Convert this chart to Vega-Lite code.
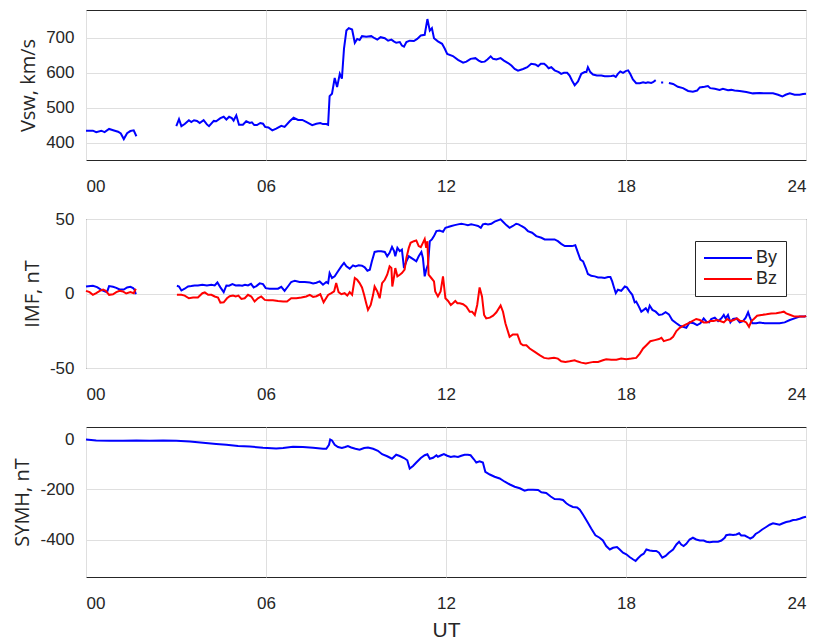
{
  "$schema": "https://vega.github.io/schema/vega-lite/v6.json",
  "background": "white",
  "padding": {"left": 12, "top": 9, "right": 12, "bottom": 5},
  "bounds": "flush",
  "spacing": 59,
  "config": {
    "font": "Liberation Sans, sans-serif",
    "view": {"stroke": "#262626", "strokeWidth": 1},
    "axis": {
      "domain": false,
      "ticks": false,
      "labelFontSize": 17,
      "labelColor": "#262626",
      "labelFont": "Liberation Sans, sans-serif",
      "titleFont": "Open Sans",
      "titleFontSize": 20,
      "titleFontWeight": "normal",
      "titleColor": "#262626",
      "gridColor": "#dfdfdf",
      "gridWidth": 1,
      "gridOpacity": 1
    },
    "axisX": {"labelPadding": 18, "titleFont": "Liberation Sans, sans-serif", "titleFontSize": 21, "titlePadding": 8},
    "axisY": {"labelPadding": 12, "titlePadding": 7},
    "legend": {
      "orient": "none",
      "legendX": 609,
      "legendY": 231,
      "strokeColor": "#262626",
      "fillColor": "white",
      "padding": 8,
      "symbolType": "M-1,0H5",
      "symbolStrokeWidth": 2,
      "symbolSize": 256,
      "labelFont": "Liberation Sans, sans-serif",
      "labelFontSize": 18,
      "labelColor": "#262626",
      "labelOffset": 35,
      "rowPadding": 3,
      "title": null
    }
  },
  "datasets": {
    "vsw": [
      {"t":0,"v":434},{"t":0.23,"v":434},{"t":0.34,"v":430},{"t":0.51,"v":434},{"t":0.62,"v":430},{"t":0.77,"v":439},{"t":0.96,"v":434},{"t":1.07,"v":431},{"t":1.16,"v":426},{"t":1.26,"v":410},{"t":1.37,"v":427},{"t":1.48,"v":433},{"t":1.59,"v":435},{"t":1.68,"v":418},
      {"t":2.3,"v":null},
      {"t":3.01,"v":447},{"t":3.1,"v":467},{"t":3.18,"v":447},{"t":3.29,"v":453},{"t":3.43,"v":464},{"t":3.51,"v":459},{"t":3.6,"v":464},{"t":3.7,"v":462},{"t":3.79,"v":456},{"t":3.92,"v":464},{"t":4.03,"v":452},{"t":4.1,"v":447},{"t":4.26,"v":462},{"t":4.34,"v":461},{"t":4.48,"v":470},{"t":4.59,"v":474},{"t":4.68,"v":466},{"t":4.77,"v":474},{"t":4.86,"v":470},{"t":4.92,"v":463},{"t":5.01,"v":478},{"t":5.1,"v":451},{"t":5.23,"v":451},{"t":5.34,"v":461},{"t":5.46,"v":456},{"t":5.53,"v":458},{"t":5.61,"v":450},{"t":5.7,"v":450},{"t":5.81,"v":456},{"t":5.9,"v":454},{"t":5.97,"v":445},{"t":6.08,"v":443},{"t":6.21,"v":435},{"t":6.34,"v":440},{"t":6.51,"v":448},{"t":6.62,"v":445},{"t":6.79,"v":461},{"t":6.92,"v":471},{"t":7.07,"v":465},{"t":7.21,"v":465},{"t":7.34,"v":459},{"t":7.54,"v":450},{"t":7.68,"v":454},{"t":7.81,"v":456},{"t":7.9,"v":453},{"t":8.01,"v":453},{"t":8.07,"v":451},
      {"t":8.12,"v":533},{"t":8.2,"v":540},{"t":8.29,"v":585},{"t":8.37,"v":559},{"t":8.46,"v":597},{"t":8.53,"v":583},{"t":8.6,"v":669},{"t":8.68,"v":721},{"t":8.76,"v":728},{"t":8.87,"v":724},{"t":8.96,"v":686},{"t":9.04,"v":697},{"t":9.12,"v":694},{"t":9.2,"v":705},{"t":9.34,"v":703},{"t":9.51,"v":705},{"t":9.62,"v":699},{"t":9.71,"v":695},{"t":9.82,"v":702},{"t":9.96,"v":699},{"t":10.07,"v":692},{"t":10.18,"v":695},{"t":10.26,"v":690},{"t":10.34,"v":686},{"t":10.46,"v":688},{"t":10.53,"v":678},{"t":10.6,"v":675},{"t":10.68,"v":688},{"t":10.79,"v":692},{"t":10.93,"v":691},{"t":11.04,"v":697},{"t":11.16,"v":707},{"t":11.29,"v":709},{"t":11.38,"v":754},{"t":11.46,"v":721},{"t":11.53,"v":728},{"t":11.6,"v":699},{"t":11.73,"v":690},{"t":11.87,"v":683},{"t":11.96,"v":669},
      {"t":12.04,"v":654},{"t":12.23,"v":648},{"t":12.4,"v":637},{"t":12.57,"v":629},{"t":12.68,"v":632},{"t":12.82,"v":640},{"t":12.98,"v":642},{"t":13.09,"v":635},{"t":13.18,"v":631},{"t":13.29,"v":632},{"t":13.38,"v":638},{"t":13.49,"v":647},{"t":13.57,"v":640},{"t":13.68,"v":638},{"t":13.82,"v":642},{"t":13.93,"v":635},{"t":14.07,"v":628},{"t":14.18,"v":621},{"t":14.29,"v":611},{"t":14.4,"v":606},{"t":14.57,"v":611},{"t":14.71,"v":616},{"t":14.84,"v":626},{"t":14.98,"v":624},{"t":15.07,"v":619},{"t":15.16,"v":626},{"t":15.27,"v":626},{"t":15.34,"v":621},{"t":15.42,"v":613},{"t":15.51,"v":616},{"t":15.62,"v":607},{"t":15.76,"v":602},{"t":15.84,"v":597},{"t":15.93,"v":600},{"t":16.04,"v":600},{"t":16.12,"v":592},{"t":16.2,"v":578},{"t":16.29,"v":564},{"t":16.4,"v":575},{"t":16.51,"v":597},{"t":16.62,"v":602},{"t":16.68,"v":602},{"t":16.73,"v":616},{"t":16.81,"v":602},{"t":16.9,"v":595},{"t":17.03,"v":592},{"t":17.18,"v":592},{"t":17.29,"v":590},{"t":17.4,"v":590},{"t":17.51,"v":591},{"t":17.59,"v":592},{"t":17.66,"v":588},{"t":17.73,"v":597},{"t":17.81,"v":604},{"t":17.9,"v":600},{"t":17.99,"v":605},{"t":18.07,"v":607},{"t":18.14,"v":597},{"t":18.23,"v":581},{"t":18.34,"v":570},{"t":18.46,"v":570},{"t":18.57,"v":573},{"t":18.66,"v":571},{"t":18.73,"v":573},{"t":18.84,"v":571},{"t":18.9,"v":573},{"t":18.99,"v":579},
      {"t":19.08,"v":null},
      {"t":19.17,"v":572},{"t":19.24,"v":572},
      {"t":19.33,"v":null},
      {"t":19.43,"v":571},{"t":19.57,"v":568},{"t":19.73,"v":560},{"t":19.9,"v":556},{"t":20.07,"v":548},{"t":20.23,"v":546},{"t":20.37,"v":549},{"t":20.46,"v":558},{"t":20.62,"v":560},{"t":20.73,"v":562},{"t":20.81,"v":556},{"t":20.96,"v":554},{"t":21.12,"v":551},{"t":21.23,"v":554},{"t":21.4,"v":550},{"t":21.51,"v":551},{"t":21.62,"v":549},{"t":21.79,"v":548},{"t":22.01,"v":545},{"t":22.23,"v":541},{"t":22.46,"v":542},{"t":22.68,"v":541},{"t":22.9,"v":541},{"t":23.07,"v":537},{"t":23.21,"v":532},{"t":23.32,"v":537},{"t":23.46,"v":541},{"t":23.62,"v":537},{"t":23.79,"v":537},{"t":23.9,"v":539},{"t":24,"v":540}
    ],
    "imf": [
      {"c":"By","t":0,"v":4.7},{"c":"By","t":0.23,"v":5.2},{"c":"By","t":0.37,"v":4.3},{"c":"By","t":0.51,"v":2.5},{"c":"By","t":0.62,"v":1.4},{"c":"By","t":0.7,"v":0.9},{"c":"By","t":0.77,"v":5},{"c":"By","t":0.9,"v":4.5},{"c":"By","t":1.01,"v":3.8},{"c":"By","t":1.12,"v":2.7},{"c":"By","t":1.26,"v":2.7},{"c":"By","t":1.37,"v":4.1},{"c":"By","t":1.48,"v":4.5},{"c":"By","t":1.57,"v":3.6},{"c":"By","t":1.62,"v":2.5},{"c":"By","t":1.66,"v":-0.5},
      {"c":"By","t":2.3,"v":null},
      {"c":"By","t":3.03,"v":5.2},{"c":"By","t":3.1,"v":4.7},{"c":"By","t":3.18,"v":2},{"c":"By","t":3.29,"v":3.2},{"c":"By","t":3.4,"v":4.7},{"c":"By","t":3.51,"v":5},{"c":"By","t":3.62,"v":5.4},{"c":"By","t":3.73,"v":5.4},{"c":"By","t":3.88,"v":5.9},{"c":"By","t":4.03,"v":5.4},{"c":"By","t":4.18,"v":5.9},{"c":"By","t":4.29,"v":5.4},{"c":"By","t":4.38,"v":7.4},{"c":"By","t":4.48,"v":4.1},{"c":"By","t":4.59,"v":0.9},{"c":"By","t":4.68,"v":5.4},{"c":"By","t":4.77,"v":5.2},{"c":"By","t":4.88,"v":6.3},{"c":"By","t":4.99,"v":5.4},{"c":"By","t":5.1,"v":5.6},{"c":"By","t":5.21,"v":5.2},{"c":"By","t":5.3,"v":5.9},{"c":"By","t":5.4,"v":5.4},{"c":"By","t":5.5,"v":6.5},{"c":"By","t":5.59,"v":4.1},{"c":"By","t":5.68,"v":5},{"c":"By","t":5.79,"v":6.8},{"c":"By","t":5.9,"v":6.3},{"c":"By","t":5.99,"v":3.6},{"c":"By","t":6.12,"v":3.2},{"c":"By","t":6.26,"v":3.2},{"c":"By","t":6.4,"v":3.2},{"c":"By","t":6.51,"v":4.5},{"c":"By","t":6.62,"v":1.8},{"c":"By","t":6.73,"v":4.7},{"c":"By","t":6.84,"v":7.7},{"c":"By","t":6.96,"v":8.6},{"c":"By","t":7.12,"v":7.7},{"c":"By","t":7.29,"v":7.7},{"c":"By","t":7.46,"v":7.4},{"c":"By","t":7.57,"v":6.8},{"c":"By","t":7.68,"v":7.2},{"c":"By","t":7.79,"v":8.1},{"c":"By","t":7.9,"v":5.9},{"c":"By","t":8.01,"v":7.7},
      {"c":"By","t":8.07,"v":7},{"c":"By","t":8.12,"v":13.7},{"c":"By","t":8.2,"v":10.4},{"c":"By","t":8.29,"v":11.5},{"c":"By","t":8.4,"v":14.9},{"c":"By","t":8.51,"v":18.2},{"c":"By","t":8.6,"v":20.5},{"c":"By","t":8.68,"v":18.2},{"c":"By","t":8.79,"v":16.7},{"c":"By","t":8.9,"v":18.9},{"c":"By","t":8.98,"v":18.2},{"c":"By","t":9.09,"v":18.9},{"c":"By","t":9.2,"v":18.7},{"c":"By","t":9.29,"v":17.6},{"c":"By","t":9.38,"v":15.3},{"c":"By","t":9.46,"v":16},{"c":"By","t":9.53,"v":21.6},{"c":"By","t":9.62,"v":27.9},{"c":"By","t":9.73,"v":28.4},{"c":"By","t":9.84,"v":28.4},{"c":"By","t":9.96,"v":27.9},{"c":"By","t":10.04,"v":25},{"c":"By","t":10.12,"v":27.3},{"c":"By","t":10.2,"v":31.3},{"c":"By","t":10.27,"v":28.4},{"c":"By","t":10.31,"v":25},{"c":"By","t":10.38,"v":30.6},{"c":"By","t":10.46,"v":28.4},{"c":"By","t":10.53,"v":29.5},{"c":"By","t":10.6,"v":17.1},{"c":"By","t":10.68,"v":21.6},{"c":"By","t":10.76,"v":25},{"c":"By","t":10.84,"v":23.9},{"c":"By","t":10.93,"v":22.7},{"c":"By","t":11.01,"v":21.6},{"c":"By","t":11.09,"v":25},{"c":"By","t":11.18,"v":27.9},{"c":"By","t":11.23,"v":23.9},{"c":"By","t":11.29,"v":11.5},{"c":"By","t":11.34,"v":16},{"c":"By","t":11.4,"v":19.4},{"c":"By","t":11.46,"v":35.1},{"c":"By","t":11.53,"v":36.3},{"c":"By","t":11.6,"v":38.5},{"c":"By","t":11.68,"v":41.9},{"c":"By","t":11.79,"v":42.3},{"c":"By","t":11.9,"v":41.4},{"c":"By","t":11.98,"v":44.1},
      {"c":"By","t":12.07,"v":44.6},{"c":"By","t":12.18,"v":45.3},{"c":"By","t":12.29,"v":45.9},{"c":"By","t":12.4,"v":46.4},{"c":"By","t":12.51,"v":46.8},{"c":"By","t":12.62,"v":46.4},{"c":"By","t":12.73,"v":45.9},{"c":"By","t":12.84,"v":46.4},{"c":"By","t":12.96,"v":45.9},{"c":"By","t":13.07,"v":45.3},{"c":"By","t":13.16,"v":44.1},{"c":"By","t":13.23,"v":46.4},{"c":"By","t":13.31,"v":46.8},{"c":"By","t":13.4,"v":46.4},{"c":"By","t":13.51,"v":46.8},{"c":"By","t":13.62,"v":48.2},{"c":"By","t":13.73,"v":49.1},{"c":"By","t":13.82,"v":49.8},{"c":"By","t":13.9,"v":48.2},{"c":"By","t":14.01,"v":45.9},{"c":"By","t":14.12,"v":44.1},{"c":"By","t":14.23,"v":45.3},{"c":"By","t":14.34,"v":46.8},{"c":"By","t":14.42,"v":46.4},{"c":"By","t":14.51,"v":45.3},{"c":"By","t":14.62,"v":44.1},{"c":"By","t":14.73,"v":41.9},{"c":"By","t":14.87,"v":40.8},{"c":"By","t":15.01,"v":38.5},{"c":"By","t":15.18,"v":37.4},{"c":"By","t":15.29,"v":36.3},{"c":"By","t":15.46,"v":36.3},{"c":"By","t":15.62,"v":36.3},{"c":"By","t":15.73,"v":35.1},{"c":"By","t":15.84,"v":33.3},{"c":"By","t":15.96,"v":31.8},{"c":"By","t":16.07,"v":31.8},{"c":"By","t":16.2,"v":31.8},{"c":"By","t":16.31,"v":32.4},{"c":"By","t":16.4,"v":27.3},{"c":"By","t":16.48,"v":22.7},{"c":"By","t":16.57,"v":21.6},{"c":"By","t":16.66,"v":17.1},{"c":"By","t":16.73,"v":13.1},{"c":"By","t":16.84,"v":11.9},{"c":"By","t":16.96,"v":11.5},{"c":"By","t":17.07,"v":10.8},{"c":"By","t":17.18,"v":10.8},{"c":"By","t":17.29,"v":10.4},{"c":"By","t":17.4,"v":11},{"c":"By","t":17.48,"v":11},{"c":"By","t":17.54,"v":8.1},{"c":"By","t":17.59,"v":4.7},{"c":"By","t":17.66,"v":0.2},{"c":"By","t":17.73,"v":2.5},{"c":"By","t":17.84,"v":1.8},{"c":"By","t":17.96,"v":4.7},{"c":"By","t":18.03,"v":4.1},{"c":"By","t":18.12,"v":1.4},{"c":"By","t":18.21,"v":-0.9},{"c":"By","t":18.29,"v":-5.9},{"c":"By","t":18.34,"v":-5.4},{"c":"By","t":18.43,"v":-8.8},{"c":"By","t":18.51,"v":-12.2},{"c":"By","t":18.59,"v":-11},{"c":"By","t":18.66,"v":-9.9},{"c":"By","t":18.73,"v":-12.2},{"c":"By","t":18.79,"v":-8.1},{"c":"By","t":18.88,"v":-11},{"c":"By","t":18.99,"v":-12.2},{"c":"By","t":19.1,"v":-14.4},{"c":"By","t":19.21,"v":-14},{"c":"By","t":19.32,"v":-12.6},{"c":"By","t":19.43,"v":-14},{"c":"By","t":19.54,"v":-17.8},{"c":"By","t":19.68,"v":-20},{"c":"By","t":19.79,"v":-21.6},{"c":"By","t":19.9,"v":-22.3},{"c":"By","t":20.01,"v":-23},{"c":"By","t":20.12,"v":-19.4},{"c":"By","t":20.26,"v":-20},{"c":"By","t":20.37,"v":-21.2},{"c":"By","t":20.48,"v":-20},{"c":"By","t":20.59,"v":-16.7},{"c":"By","t":20.68,"v":-18.9},{"c":"By","t":20.77,"v":-19.4},{"c":"By","t":20.84,"v":-17.1},{"c":"By","t":20.96,"v":-16.2},{"c":"By","t":21.07,"v":-18.5},{"c":"By","t":21.18,"v":-16.7},{"c":"By","t":21.26,"v":-14.4},{"c":"By","t":21.32,"v":-16.7},{"c":"By","t":21.4,"v":-14.4},{"c":"By","t":21.48,"v":-19.4},{"c":"By","t":21.57,"v":-17.1},{"c":"By","t":21.68,"v":-16.7},{"c":"By","t":21.79,"v":-19.4},{"c":"By","t":21.9,"v":-18.5},{"c":"By","t":21.99,"v":-16.2},{"c":"By","t":22.07,"v":-12.6},{"c":"By","t":22.12,"v":-15.5},{"c":"By","t":22.21,"v":-20},{"c":"By","t":22.34,"v":-20},{"c":"By","t":22.46,"v":-19.4},{"c":"By","t":22.62,"v":-20},{"c":"By","t":22.79,"v":-20},{"c":"By","t":22.96,"v":-20},{"c":"By","t":23.12,"v":-20},{"c":"By","t":23.29,"v":-19.4},{"c":"By","t":23.46,"v":-17.8},{"c":"By","t":23.62,"v":-16.7},{"c":"By","t":23.79,"v":-15.5},{"c":"By","t":23.96,"v":-15.5},{"c":"By","t":24,"v":-14.9},
      {"c":"Bz","t":0,"v":1.8},{"c":"Bz","t":0.12,"v":0.9},{"c":"Bz","t":0.23,"v":-0.9},{"c":"Bz","t":0.34,"v":0.2},{"c":"Bz","t":0.46,"v":1.8},{"c":"Bz","t":0.57,"v":2.7},{"c":"Bz","t":0.66,"v":1.8},{"c":"Bz","t":0.77,"v":-0.9},{"c":"Bz","t":0.9,"v":-0.5},{"c":"Bz","t":1.01,"v":0.9},{"c":"Bz","t":1.12,"v":1.8},{"c":"Bz","t":1.23,"v":1.4},{"c":"Bz","t":1.34,"v":0},{"c":"Bz","t":1.48,"v":0.9},{"c":"Bz","t":1.59,"v":0.2},{"c":"Bz","t":1.66,"v":3.2},
      {"c":"Bz","t":2.3,"v":null},
      {"c":"Bz","t":3.03,"v":-0.9},{"c":"Bz","t":3.18,"v":-0.9},{"c":"Bz","t":3.29,"v":-1.4},{"c":"Bz","t":3.43,"v":-3.2},{"c":"Bz","t":3.57,"v":-2.7},{"c":"Bz","t":3.73,"v":-2.7},{"c":"Bz","t":3.88,"v":0.2},{"c":"Bz","t":3.96,"v":0.7},{"c":"Bz","t":4.07,"v":-0.9},{"c":"Bz","t":4.18,"v":-0.9},{"c":"Bz","t":4.29,"v":-2},{"c":"Bz","t":4.4,"v":-2.7},{"c":"Bz","t":4.48,"v":-6.1},{"c":"Bz","t":4.59,"v":-5.9},{"c":"Bz","t":4.7,"v":-3.2},{"c":"Bz","t":4.79,"v":-1.8},{"c":"Bz","t":4.9,"v":-1.4},{"c":"Bz","t":4.99,"v":-2},{"c":"Bz","t":5.08,"v":-1.4},{"c":"Bz","t":5.18,"v":-3.6},{"c":"Bz","t":5.29,"v":-3.2},{"c":"Bz","t":5.4,"v":-0.9},{"c":"Bz","t":5.51,"v":-2},{"c":"Bz","t":5.62,"v":-5.4},{"c":"Bz","t":5.73,"v":-3.2},{"c":"Bz","t":5.84,"v":-2},{"c":"Bz","t":5.96,"v":-4.3},{"c":"Bz","t":6.07,"v":-4.5},{"c":"Bz","t":6.23,"v":-4.5},{"c":"Bz","t":6.4,"v":-5},{"c":"Bz","t":6.57,"v":-5.4},{"c":"Bz","t":6.7,"v":-5.4},{"c":"Bz","t":6.84,"v":-3.2},{"c":"Bz","t":7.01,"v":-3.2},{"c":"Bz","t":7.18,"v":-2.7},{"c":"Bz","t":7.34,"v":-2},{"c":"Bz","t":7.46,"v":-0.9},{"c":"Bz","t":7.57,"v":-2.3},{"c":"Bz","t":7.68,"v":-1.8},{"c":"Bz","t":7.81,"v":-0.5},{"c":"Bz","t":7.92,"v":-5.9},{"c":"Bz","t":8.07,"v":-1},
      {"c":"Bz","t":8.18,"v":0.2},{"c":"Bz","t":8.27,"v":1.4},{"c":"Bz","t":8.34,"v":7},{"c":"Bz","t":8.42,"v":0.9},{"c":"Bz","t":8.51,"v":-0.5},{"c":"Bz","t":8.62,"v":0.2},{"c":"Bz","t":8.71,"v":-1.4},{"c":"Bz","t":8.79,"v":0.9},{"c":"Bz","t":8.87,"v":-0.9},{"c":"Bz","t":8.96,"v":10.4},{"c":"Bz","t":9.04,"v":9.2},{"c":"Bz","t":9.12,"v":7},{"c":"Bz","t":9.2,"v":4.1},{"c":"Bz","t":9.27,"v":-0.9},{"c":"Bz","t":9.34,"v":-6.5},{"c":"Bz","t":9.4,"v":-11},{"c":"Bz","t":9.49,"v":-7.7},{"c":"Bz","t":9.57,"v":-0.9},{"c":"Bz","t":9.62,"v":4.7},{"c":"Bz","t":9.71,"v":1.4},{"c":"Bz","t":9.79,"v":-3.2},{"c":"Bz","t":9.87,"v":7},{"c":"Bz","t":9.96,"v":9.2},{"c":"Bz","t":10.04,"v":12.6},{"c":"Bz","t":10.12,"v":18.2},{"c":"Bz","t":10.18,"v":17.1},{"c":"Bz","t":10.21,"v":4.7},{"c":"Bz","t":10.27,"v":11.5},{"c":"Bz","t":10.31,"v":17.1},{"c":"Bz","t":10.38,"v":11.5},{"c":"Bz","t":10.46,"v":12.6},{"c":"Bz","t":10.53,"v":13.7},{"c":"Bz","t":10.62,"v":16},{"c":"Bz","t":10.68,"v":23.9},{"c":"Bz","t":10.76,"v":30.6},{"c":"Bz","t":10.82,"v":34},{"c":"Bz","t":10.93,"v":35.1},{"c":"Bz","t":11.01,"v":35.6},{"c":"Bz","t":11.09,"v":31.8},{"c":"Bz","t":11.16,"v":31.1},{"c":"Bz","t":11.23,"v":34},{"c":"Bz","t":11.29,"v":36.5},{"c":"Bz","t":11.34,"v":30.6},{"c":"Bz","t":11.38,"v":35.1},{"c":"Bz","t":11.42,"v":12.6},{"c":"Bz","t":11.51,"v":10.4},{"c":"Bz","t":11.6,"v":8.1},{"c":"Bz","t":11.64,"v":1.4},{"c":"Bz","t":11.73,"v":-2},{"c":"Bz","t":11.82,"v":1.4},{"c":"Bz","t":11.9,"v":11.5},{"c":"Bz","t":11.98,"v":-3.2},
      {"c":"Bz","t":12.07,"v":-5},{"c":"Bz","t":12.16,"v":-7.7},{"c":"Bz","t":12.23,"v":-6.5},{"c":"Bz","t":12.31,"v":-5},{"c":"Bz","t":12.38,"v":-6.5},{"c":"Bz","t":12.46,"v":-6.5},{"c":"Bz","t":12.57,"v":-7.2},{"c":"Bz","t":12.68,"v":-8.8},{"c":"Bz","t":12.79,"v":-12.2},{"c":"Bz","t":12.87,"v":-12.2},{"c":"Bz","t":12.96,"v":-14.4},{"c":"Bz","t":13.04,"v":-7.7},{"c":"Bz","t":13.12,"v":4.1},{"c":"Bz","t":13.2,"v":-2},{"c":"Bz","t":13.27,"v":-14.4},{"c":"Bz","t":13.34,"v":-16.7},{"c":"Bz","t":13.46,"v":-16.2},{"c":"Bz","t":13.57,"v":-14.9},{"c":"Bz","t":13.68,"v":-12.6},{"c":"Bz","t":13.82,"v":-8.1},{"c":"Bz","t":13.9,"v":-12.2},{"c":"Bz","t":13.98,"v":-20},{"c":"Bz","t":14.12,"v":-29.1},{"c":"Bz","t":14.23,"v":-27.5},{"c":"Bz","t":14.38,"v":-27.5},{"c":"Bz","t":14.49,"v":-33.6},{"c":"Bz","t":14.57,"v":-34.7},{"c":"Bz","t":14.68,"v":-34.7},{"c":"Bz","t":14.79,"v":-36.9},{"c":"Bz","t":14.96,"v":-39.2},{"c":"Bz","t":15.12,"v":-41.4},{"c":"Bz","t":15.27,"v":-43.2},{"c":"Bz","t":15.42,"v":-43.7},{"c":"Bz","t":15.6,"v":-43.2},{"c":"Bz","t":15.73,"v":-43.7},{"c":"Bz","t":15.84,"v":-45.5},{"c":"Bz","t":15.98,"v":-45.9},{"c":"Bz","t":16.12,"v":-45.5},{"c":"Bz","t":16.29,"v":-44.8},{"c":"Bz","t":16.37,"v":-45.5},{"c":"Bz","t":16.51,"v":-46.4},{"c":"Bz","t":16.66,"v":-47},{"c":"Bz","t":16.79,"v":-46.4},{"c":"Bz","t":16.92,"v":-45.9},{"c":"Bz","t":17.07,"v":-45.9},{"c":"Bz","t":17.23,"v":-44.8},{"c":"Bz","t":17.34,"v":-44.1},{"c":"Bz","t":17.51,"v":-44.4},{"c":"Bz","t":17.68,"v":-44.4},{"c":"Bz","t":17.84,"v":-43.7},{"c":"Bz","t":18.01,"v":-44.1},{"c":"Bz","t":18.18,"v":-43.7},{"c":"Bz","t":18.34,"v":-43.2},{"c":"Bz","t":18.46,"v":-40.3},{"c":"Bz","t":18.57,"v":-36.9},{"c":"Bz","t":18.68,"v":-34.7},{"c":"Bz","t":18.81,"v":-32},{"c":"Bz","t":18.96,"v":-31.3},{"c":"Bz","t":19.1,"v":-30.6},{"c":"Bz","t":19.18,"v":-29.7},{"c":"Bz","t":19.26,"v":-32},{"c":"Bz","t":19.37,"v":-31.3},{"c":"Bz","t":19.48,"v":-30.6},{"c":"Bz","t":19.57,"v":-29.1},{"c":"Bz","t":19.68,"v":-25.2},{"c":"Bz","t":19.79,"v":-23},{"c":"Bz","t":19.92,"v":-21.6},{"c":"Bz","t":20.07,"v":-20},{"c":"Bz","t":20.21,"v":-18.5},{"c":"Bz","t":20.34,"v":-17.1},{"c":"Bz","t":20.46,"v":-17.8},{"c":"Bz","t":20.59,"v":-19.4},{"c":"Bz","t":20.7,"v":-19.4},{"c":"Bz","t":20.81,"v":-18.5},{"c":"Bz","t":20.92,"v":-18.5},{"c":"Bz","t":21.03,"v":-17.8},{"c":"Bz","t":21.14,"v":-18.5},{"c":"Bz","t":21.26,"v":-19.4},{"c":"Bz","t":21.37,"v":-17.1},{"c":"Bz","t":21.48,"v":-18.5},{"c":"Bz","t":21.59,"v":-17.8},{"c":"Bz","t":21.7,"v":-16.7},{"c":"Bz","t":21.81,"v":-18.5},{"c":"Bz","t":21.92,"v":-18.5},{"c":"Bz","t":22.01,"v":-19.4},{"c":"Bz","t":22.1,"v":-22.3},{"c":"Bz","t":22.18,"v":-18.5},{"c":"Bz","t":22.26,"v":-17.1},{"c":"Bz","t":22.37,"v":-14.9},{"c":"Bz","t":22.51,"v":-14.4},{"c":"Bz","t":22.68,"v":-14},{"c":"Bz","t":22.84,"v":-13.5},{"c":"Bz","t":23.01,"v":-13.3},{"c":"Bz","t":23.18,"v":-12.6},{"c":"Bz","t":23.26,"v":-12.2},{"c":"Bz","t":23.34,"v":-13.3},{"c":"Bz","t":23.48,"v":-14.4},{"c":"Bz","t":23.62,"v":-15.5},{"c":"Bz","t":23.79,"v":-15.5},{"c":"Bz","t":23.96,"v":-15.5},{"c":"Bz","t":24,"v":-14.9}
    ],
    "symh": [
      {"t":0,"v":0},{"t":0.34,"v":-4},{"t":0.79,"v":-5},{"t":1.23,"v":-5},{"t":1.68,"v":-4},{"t":2.12,"v":-5},{"t":2.57,"v":-4},{"t":3.01,"v":-5},{"t":3.46,"v":-8},{"t":3.9,"v":-13},{"t":4.34,"v":-18},{"t":4.68,"v":-21},{"t":5.07,"v":-26},{"t":5.46,"v":-28},{"t":5.9,"v":-33},{"t":6.34,"v":-36},{"t":6.57,"v":-34},{"t":6.9,"v":-29},{"t":7.23,"v":-30},{"t":7.57,"v":-33},{"t":7.9,"v":-37},{"t":8.01,"v":-37},{"t":8.1,"v":-21},{"t":8.14,"v":0},{"t":8.2,"v":-4},{"t":8.29,"v":-21},{"t":8.4,"v":-30},{"t":8.53,"v":-34},{"t":8.64,"v":-30},{"t":8.73,"v":-26},{"t":8.84,"v":-32},{"t":8.98,"v":-37},{"t":9.12,"v":-41},{"t":9.27,"v":-34},{"t":9.4,"v":-32},{"t":9.57,"v":-37},{"t":9.73,"v":-45},{"t":9.87,"v":-59},{"t":10.04,"v":-67},{"t":10.2,"v":-77},{"t":10.34,"v":-61},{"t":10.46,"v":-66},{"t":10.6,"v":-74},{"t":10.71,"v":-83},{"t":10.79,"v":-116},{"t":10.9,"v":-106},{"t":11.01,"v":-92},{"t":11.16,"v":-74},{"t":11.29,"v":-63},{"t":11.38,"v":-59},{"t":11.46,"v":-77},{"t":11.57,"v":-73},{"t":11.68,"v":-63},{"t":11.73,"v":-69},{"t":11.84,"v":-63},{"t":11.93,"v":-58},{"t":12.04,"v":-65},{"t":12.16,"v":-70},{"t":12.27,"v":-67},{"t":12.4,"v":-70},{"t":12.51,"v":-65},{"t":12.62,"v":-61},{"t":12.73,"v":-61},{"t":12.82,"v":-63},{"t":12.93,"v":-79},{"t":13.01,"v":-92},{"t":13.12,"v":-87},{"t":13.23,"v":-92},{"t":13.31,"v":-129},{"t":13.46,"v":-140},{"t":13.62,"v":-149},{"t":13.79,"v":-156},{"t":13.96,"v":-169},{"t":14.13,"v":-180},{"t":14.29,"v":-189},{"t":14.46,"v":-195},{"t":14.62,"v":-205},{"t":14.73,"v":-201},{"t":14.9,"v":-201},{"t":15.07,"v":-202},{"t":15.18,"v":-211},{"t":15.34,"v":-214},{"t":15.49,"v":-228},{"t":15.62,"v":-238},{"t":15.79,"v":-239},{"t":15.9,"v":-242},{"t":16.01,"v":-255},{"t":16.12,"v":-264},{"t":16.23,"v":-270},{"t":16.37,"v":-272},{"t":16.46,"v":-281},{"t":16.57,"v":-301},{"t":16.7,"v":-327},{"t":16.84,"v":-356},{"t":16.98,"v":-383},{"t":17.12,"v":-393},{"t":17.23,"v":-404},{"t":17.34,"v":-426},{"t":17.46,"v":-440},{"t":17.57,"v":-433},{"t":17.7,"v":-430},{"t":17.79,"v":-440},{"t":17.9,"v":-453},{"t":18.01,"v":-459},{"t":18.12,"v":-470},{"t":18.23,"v":-479},{"t":18.32,"v":-486},{"t":18.4,"v":-475},{"t":18.51,"v":-462},{"t":18.59,"v":-457},{"t":18.68,"v":-440},{"t":18.79,"v":-444},{"t":18.9,"v":-446},{"t":19.01,"v":-446},{"t":19.1,"v":-453},{"t":19.21,"v":-473},{"t":19.32,"v":-466},{"t":19.43,"v":-453},{"t":19.57,"v":-440},{"t":19.68,"v":-420},{"t":19.77,"v":-409},{"t":19.84,"v":-420},{"t":19.92,"v":-426},{"t":20.01,"v":-417},{"t":20.12,"v":-400},{"t":20.23,"v":-393},{"t":20.34,"v":-400},{"t":20.46,"v":-404},{"t":20.59,"v":-404},{"t":20.68,"v":-409},{"t":20.79,"v":-411},{"t":20.9,"v":-409},{"t":21.07,"v":-409},{"t":21.18,"v":-404},{"t":21.29,"v":-393},{"t":21.34,"v":-383},{"t":21.46,"v":-380},{"t":21.57,"v":-382},{"t":21.68,"v":-380},{"t":21.77,"v":-375},{"t":21.84,"v":-384},{"t":21.96,"v":-384},{"t":22.07,"v":-391},{"t":22.14,"v":-396},{"t":22.23,"v":-391},{"t":22.32,"v":-378},{"t":22.43,"v":-370},{"t":22.54,"v":-360},{"t":22.66,"v":-351},{"t":22.79,"v":-341},{"t":22.9,"v":-335},{"t":23.01,"v":-338},{"t":23.12,"v":-341},{"t":23.23,"v":-335},{"t":23.34,"v":-330},{"t":23.46,"v":-327},{"t":23.57,"v":-322},{"t":23.68,"v":-321},{"t":23.79,"v":-317},{"t":23.9,"v":-312},{"t":24,"v":-309}
    ]
  },
  "vconcat": [
    {
      "width": 720,
      "height": 150,
      "data": {"name": "vsw"},
      "mark": {"type": "line", "color": "#0000ff", "strokeWidth": 2, "invalid": "break-paths-show-domains"},
      "encoding": {
        "x": {"field": "t", "type": "quantitative", "scale": {"domain": [0, 24], "nice": false, "zero": false}, "axis": {"values": [0, 6, 12, 18, 24], "format": "02d", "title": null}},
        "y": {"field": "v", "type": "quantitative", "scale": {"domain": [350, 780], "nice": false, "zero": false}, "axis": {"values": [400, 500, 600, 700], "labelExpr": "datum.value + ''", "title": "Vsw, km/s"}}
      }
    },
    {
      "width": 720,
      "height": 149,
      "data": {"name": "imf"},
      "mark": {"type": "line", "strokeWidth": 2, "invalid": "break-paths-show-domains"},
      "encoding": {
        "x": {"field": "t", "type": "quantitative", "scale": {"domain": [0, 24], "nice": false, "zero": false}, "axis": {"values": [0, 6, 12, 18, 24], "format": "02d", "title": null}},
        "y": {"field": "v", "type": "quantitative", "scale": {"domain": [-50, 50], "nice": false, "zero": false}, "axis": {"values": [-50, 0, 50], "labelExpr": "datum.value + ''", "title": "IMF, nT"}},
        "color": {"field": "c", "type": "nominal", "scale": {"domain": ["By", "Bz"], "range": ["#0000ff", "#ff0000"]}, "legend": {"title": null}}
      }
    },
    {
      "width": 720,
      "height": 150,
      "data": {"name": "symh"},
      "mark": {"type": "line", "color": "#0000ff", "strokeWidth": 2},
      "encoding": {
        "x": {"field": "t", "type": "quantitative", "scale": {"domain": [0, 24], "nice": false, "zero": false}, "axis": {"values": [0, 6, 12, 18, 24], "format": "02d", "title": "UT"}},
        "y": {"field": "v", "type": "quantitative", "scale": {"domain": [-550, 50], "nice": false, "zero": false}, "axis": {"values": [-400, -200, 0], "labelExpr": "datum.value + ''", "title": "SYMH, nT"}}
      }
    }
  ]
}
